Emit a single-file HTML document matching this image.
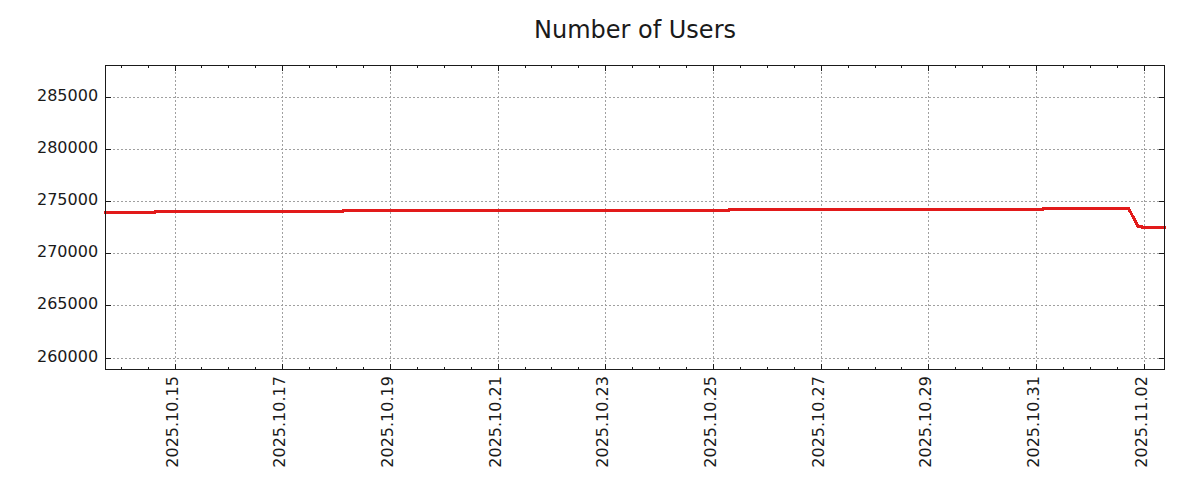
<!DOCTYPE html>
<html><head><meta charset="utf-8"><title>Number of Users</title>
<style>
html,body{margin:0;padding:0;background:#ffffff;overflow:hidden;font-family:"Liberation Sans",sans-serif;}
body{width:1200px;height:500px;}
</style></head><body>
<svg width="1200" height="500" viewBox="0 0 1200 500" style="display:block">
<rect x="0" y="0" width="1200" height="500" fill="#ffffff"/>
<g fill="#a0a0a0" shape-rendering="crispEdges">
<path d="M109 97h2v1h-2zM113 97h2v1h-2zM117 97h2v1h-2zM121 97h2v1h-2zM125 97h2v1h-2zM129 97h2v1h-2zM133 97h2v1h-2zM137 97h2v1h-2zM141 97h2v1h-2zM145 97h2v1h-2zM149 97h2v1h-2zM153 97h2v1h-2zM157 97h2v1h-2zM161 97h2v1h-2zM165 97h2v1h-2zM169 97h2v1h-2zM173 97h2v1h-2zM177 97h2v1h-2zM181 97h2v1h-2zM185 97h2v1h-2zM189 97h2v1h-2zM193 97h2v1h-2zM197 97h2v1h-2zM201 97h2v1h-2zM205 97h2v1h-2zM209 97h2v1h-2zM213 97h2v1h-2zM217 97h2v1h-2zM221 97h2v1h-2zM225 97h2v1h-2zM229 97h2v1h-2zM233 97h2v1h-2zM237 97h2v1h-2zM241 97h2v1h-2zM245 97h2v1h-2zM249 97h2v1h-2zM253 97h2v1h-2zM257 97h2v1h-2zM261 97h2v1h-2zM265 97h2v1h-2zM269 97h2v1h-2zM273 97h2v1h-2zM277 97h2v1h-2zM281 97h2v1h-2zM285 97h2v1h-2zM289 97h2v1h-2zM293 97h2v1h-2zM297 97h2v1h-2zM301 97h2v1h-2zM305 97h2v1h-2zM309 97h2v1h-2zM313 97h2v1h-2zM317 97h2v1h-2zM321 97h2v1h-2zM325 97h2v1h-2zM329 97h2v1h-2zM333 97h2v1h-2zM337 97h2v1h-2zM341 97h2v1h-2zM345 97h2v1h-2zM349 97h2v1h-2zM353 97h2v1h-2zM357 97h2v1h-2zM361 97h2v1h-2zM365 97h2v1h-2zM369 97h2v1h-2zM373 97h2v1h-2zM377 97h2v1h-2zM381 97h2v1h-2zM385 97h2v1h-2zM389 97h2v1h-2zM393 97h2v1h-2zM397 97h2v1h-2zM401 97h2v1h-2zM405 97h2v1h-2zM409 97h2v1h-2zM413 97h2v1h-2zM417 97h2v1h-2zM421 97h2v1h-2zM425 97h2v1h-2zM429 97h2v1h-2zM433 97h2v1h-2zM437 97h2v1h-2zM441 97h2v1h-2zM445 97h2v1h-2zM449 97h2v1h-2zM453 97h2v1h-2zM457 97h2v1h-2zM461 97h2v1h-2zM465 97h2v1h-2zM469 97h2v1h-2zM473 97h2v1h-2zM477 97h2v1h-2zM481 97h2v1h-2zM485 97h2v1h-2zM489 97h2v1h-2zM493 97h2v1h-2zM497 97h2v1h-2zM501 97h2v1h-2zM505 97h2v1h-2zM509 97h2v1h-2zM513 97h2v1h-2zM517 97h2v1h-2zM521 97h2v1h-2zM525 97h2v1h-2zM529 97h2v1h-2zM533 97h2v1h-2zM537 97h2v1h-2zM541 97h2v1h-2zM545 97h2v1h-2zM549 97h2v1h-2zM553 97h2v1h-2zM557 97h2v1h-2zM561 97h2v1h-2zM565 97h2v1h-2zM569 97h2v1h-2zM573 97h2v1h-2zM577 97h2v1h-2zM581 97h2v1h-2zM585 97h2v1h-2zM589 97h2v1h-2zM593 97h2v1h-2zM597 97h2v1h-2zM601 97h2v1h-2zM605 97h2v1h-2zM609 97h2v1h-2zM613 97h2v1h-2zM617 97h2v1h-2zM621 97h2v1h-2zM625 97h2v1h-2zM629 97h2v1h-2zM633 97h2v1h-2zM637 97h2v1h-2zM641 97h2v1h-2zM645 97h2v1h-2zM649 97h2v1h-2zM653 97h2v1h-2zM657 97h2v1h-2zM661 97h2v1h-2zM665 97h2v1h-2zM669 97h2v1h-2zM673 97h2v1h-2zM677 97h2v1h-2zM681 97h2v1h-2zM685 97h2v1h-2zM689 97h2v1h-2zM693 97h2v1h-2zM697 97h2v1h-2zM701 97h2v1h-2zM705 97h2v1h-2zM709 97h2v1h-2zM713 97h2v1h-2zM717 97h2v1h-2zM721 97h2v1h-2zM725 97h2v1h-2zM729 97h2v1h-2zM733 97h2v1h-2zM737 97h2v1h-2zM741 97h2v1h-2zM745 97h2v1h-2zM749 97h2v1h-2zM753 97h2v1h-2zM757 97h2v1h-2zM761 97h2v1h-2zM765 97h2v1h-2zM769 97h2v1h-2zM773 97h2v1h-2zM777 97h2v1h-2zM781 97h2v1h-2zM785 97h2v1h-2zM789 97h2v1h-2zM793 97h2v1h-2zM797 97h2v1h-2zM801 97h2v1h-2zM805 97h2v1h-2zM809 97h2v1h-2zM813 97h2v1h-2zM817 97h2v1h-2zM821 97h2v1h-2zM825 97h2v1h-2zM829 97h2v1h-2zM833 97h2v1h-2zM837 97h2v1h-2zM841 97h2v1h-2zM845 97h2v1h-2zM849 97h2v1h-2zM853 97h2v1h-2zM857 97h2v1h-2zM861 97h2v1h-2zM865 97h2v1h-2zM869 97h2v1h-2zM873 97h2v1h-2zM877 97h2v1h-2zM881 97h2v1h-2zM885 97h2v1h-2zM889 97h2v1h-2zM893 97h2v1h-2zM897 97h2v1h-2zM901 97h2v1h-2zM905 97h2v1h-2zM909 97h2v1h-2zM913 97h2v1h-2zM917 97h2v1h-2zM921 97h2v1h-2zM925 97h2v1h-2zM929 97h2v1h-2zM933 97h2v1h-2zM937 97h2v1h-2zM941 97h2v1h-2zM945 97h2v1h-2zM949 97h2v1h-2zM953 97h2v1h-2zM957 97h2v1h-2zM961 97h2v1h-2zM965 97h2v1h-2zM969 97h2v1h-2zM973 97h2v1h-2zM977 97h2v1h-2zM981 97h2v1h-2zM985 97h2v1h-2zM989 97h2v1h-2zM993 97h2v1h-2zM997 97h2v1h-2zM1001 97h2v1h-2zM1005 97h2v1h-2zM1009 97h2v1h-2zM1013 97h2v1h-2zM1017 97h2v1h-2zM1021 97h2v1h-2zM1025 97h2v1h-2zM1029 97h2v1h-2zM1033 97h2v1h-2zM1037 97h2v1h-2zM1041 97h2v1h-2zM1045 97h2v1h-2zM1049 97h2v1h-2zM1053 97h2v1h-2zM1057 97h2v1h-2zM1061 97h2v1h-2zM1065 97h2v1h-2zM1069 97h2v1h-2zM1073 97h2v1h-2zM1077 97h2v1h-2zM1081 97h2v1h-2zM1085 97h2v1h-2zM1089 97h2v1h-2zM1093 97h2v1h-2zM1097 97h2v1h-2zM1101 97h2v1h-2zM1105 97h2v1h-2zM1109 97h2v1h-2zM1113 97h2v1h-2zM1117 97h2v1h-2zM1121 97h2v1h-2zM1125 97h2v1h-2zM1129 97h2v1h-2zM1133 97h2v1h-2zM1137 97h2v1h-2zM1141 97h2v1h-2zM1145 97h2v1h-2zM1149 97h2v1h-2zM1153 97h2v1h-2zM1157 97h2v1h-2zM1161 97h2v1h-2z"/>
<path d="M109 149h2v1h-2zM113 149h2v1h-2zM117 149h2v1h-2zM121 149h2v1h-2zM125 149h2v1h-2zM129 149h2v1h-2zM133 149h2v1h-2zM137 149h2v1h-2zM141 149h2v1h-2zM145 149h2v1h-2zM149 149h2v1h-2zM153 149h2v1h-2zM157 149h2v1h-2zM161 149h2v1h-2zM165 149h2v1h-2zM169 149h2v1h-2zM173 149h2v1h-2zM177 149h2v1h-2zM181 149h2v1h-2zM185 149h2v1h-2zM189 149h2v1h-2zM193 149h2v1h-2zM197 149h2v1h-2zM201 149h2v1h-2zM205 149h2v1h-2zM209 149h2v1h-2zM213 149h2v1h-2zM217 149h2v1h-2zM221 149h2v1h-2zM225 149h2v1h-2zM229 149h2v1h-2zM233 149h2v1h-2zM237 149h2v1h-2zM241 149h2v1h-2zM245 149h2v1h-2zM249 149h2v1h-2zM253 149h2v1h-2zM257 149h2v1h-2zM261 149h2v1h-2zM265 149h2v1h-2zM269 149h2v1h-2zM273 149h2v1h-2zM277 149h2v1h-2zM281 149h2v1h-2zM285 149h2v1h-2zM289 149h2v1h-2zM293 149h2v1h-2zM297 149h2v1h-2zM301 149h2v1h-2zM305 149h2v1h-2zM309 149h2v1h-2zM313 149h2v1h-2zM317 149h2v1h-2zM321 149h2v1h-2zM325 149h2v1h-2zM329 149h2v1h-2zM333 149h2v1h-2zM337 149h2v1h-2zM341 149h2v1h-2zM345 149h2v1h-2zM349 149h2v1h-2zM353 149h2v1h-2zM357 149h2v1h-2zM361 149h2v1h-2zM365 149h2v1h-2zM369 149h2v1h-2zM373 149h2v1h-2zM377 149h2v1h-2zM381 149h2v1h-2zM385 149h2v1h-2zM389 149h2v1h-2zM393 149h2v1h-2zM397 149h2v1h-2zM401 149h2v1h-2zM405 149h2v1h-2zM409 149h2v1h-2zM413 149h2v1h-2zM417 149h2v1h-2zM421 149h2v1h-2zM425 149h2v1h-2zM429 149h2v1h-2zM433 149h2v1h-2zM437 149h2v1h-2zM441 149h2v1h-2zM445 149h2v1h-2zM449 149h2v1h-2zM453 149h2v1h-2zM457 149h2v1h-2zM461 149h2v1h-2zM465 149h2v1h-2zM469 149h2v1h-2zM473 149h2v1h-2zM477 149h2v1h-2zM481 149h2v1h-2zM485 149h2v1h-2zM489 149h2v1h-2zM493 149h2v1h-2zM497 149h2v1h-2zM501 149h2v1h-2zM505 149h2v1h-2zM509 149h2v1h-2zM513 149h2v1h-2zM517 149h2v1h-2zM521 149h2v1h-2zM525 149h2v1h-2zM529 149h2v1h-2zM533 149h2v1h-2zM537 149h2v1h-2zM541 149h2v1h-2zM545 149h2v1h-2zM549 149h2v1h-2zM553 149h2v1h-2zM557 149h2v1h-2zM561 149h2v1h-2zM565 149h2v1h-2zM569 149h2v1h-2zM573 149h2v1h-2zM577 149h2v1h-2zM581 149h2v1h-2zM585 149h2v1h-2zM589 149h2v1h-2zM593 149h2v1h-2zM597 149h2v1h-2zM601 149h2v1h-2zM605 149h2v1h-2zM609 149h2v1h-2zM613 149h2v1h-2zM617 149h2v1h-2zM621 149h2v1h-2zM625 149h2v1h-2zM629 149h2v1h-2zM633 149h2v1h-2zM637 149h2v1h-2zM641 149h2v1h-2zM645 149h2v1h-2zM649 149h2v1h-2zM653 149h2v1h-2zM657 149h2v1h-2zM661 149h2v1h-2zM665 149h2v1h-2zM669 149h2v1h-2zM673 149h2v1h-2zM677 149h2v1h-2zM681 149h2v1h-2zM685 149h2v1h-2zM689 149h2v1h-2zM693 149h2v1h-2zM697 149h2v1h-2zM701 149h2v1h-2zM705 149h2v1h-2zM709 149h2v1h-2zM713 149h2v1h-2zM717 149h2v1h-2zM721 149h2v1h-2zM725 149h2v1h-2zM729 149h2v1h-2zM733 149h2v1h-2zM737 149h2v1h-2zM741 149h2v1h-2zM745 149h2v1h-2zM749 149h2v1h-2zM753 149h2v1h-2zM757 149h2v1h-2zM761 149h2v1h-2zM765 149h2v1h-2zM769 149h2v1h-2zM773 149h2v1h-2zM777 149h2v1h-2zM781 149h2v1h-2zM785 149h2v1h-2zM789 149h2v1h-2zM793 149h2v1h-2zM797 149h2v1h-2zM801 149h2v1h-2zM805 149h2v1h-2zM809 149h2v1h-2zM813 149h2v1h-2zM817 149h2v1h-2zM821 149h2v1h-2zM825 149h2v1h-2zM829 149h2v1h-2zM833 149h2v1h-2zM837 149h2v1h-2zM841 149h2v1h-2zM845 149h2v1h-2zM849 149h2v1h-2zM853 149h2v1h-2zM857 149h2v1h-2zM861 149h2v1h-2zM865 149h2v1h-2zM869 149h2v1h-2zM873 149h2v1h-2zM877 149h2v1h-2zM881 149h2v1h-2zM885 149h2v1h-2zM889 149h2v1h-2zM893 149h2v1h-2zM897 149h2v1h-2zM901 149h2v1h-2zM905 149h2v1h-2zM909 149h2v1h-2zM913 149h2v1h-2zM917 149h2v1h-2zM921 149h2v1h-2zM925 149h2v1h-2zM929 149h2v1h-2zM933 149h2v1h-2zM937 149h2v1h-2zM941 149h2v1h-2zM945 149h2v1h-2zM949 149h2v1h-2zM953 149h2v1h-2zM957 149h2v1h-2zM961 149h2v1h-2zM965 149h2v1h-2zM969 149h2v1h-2zM973 149h2v1h-2zM977 149h2v1h-2zM981 149h2v1h-2zM985 149h2v1h-2zM989 149h2v1h-2zM993 149h2v1h-2zM997 149h2v1h-2zM1001 149h2v1h-2zM1005 149h2v1h-2zM1009 149h2v1h-2zM1013 149h2v1h-2zM1017 149h2v1h-2zM1021 149h2v1h-2zM1025 149h2v1h-2zM1029 149h2v1h-2zM1033 149h2v1h-2zM1037 149h2v1h-2zM1041 149h2v1h-2zM1045 149h2v1h-2zM1049 149h2v1h-2zM1053 149h2v1h-2zM1057 149h2v1h-2zM1061 149h2v1h-2zM1065 149h2v1h-2zM1069 149h2v1h-2zM1073 149h2v1h-2zM1077 149h2v1h-2zM1081 149h2v1h-2zM1085 149h2v1h-2zM1089 149h2v1h-2zM1093 149h2v1h-2zM1097 149h2v1h-2zM1101 149h2v1h-2zM1105 149h2v1h-2zM1109 149h2v1h-2zM1113 149h2v1h-2zM1117 149h2v1h-2zM1121 149h2v1h-2zM1125 149h2v1h-2zM1129 149h2v1h-2zM1133 149h2v1h-2zM1137 149h2v1h-2zM1141 149h2v1h-2zM1145 149h2v1h-2zM1149 149h2v1h-2zM1153 149h2v1h-2zM1157 149h2v1h-2zM1161 149h2v1h-2z"/>
<path d="M109 201h2v1h-2zM113 201h2v1h-2zM117 201h2v1h-2zM121 201h2v1h-2zM125 201h2v1h-2zM129 201h2v1h-2zM133 201h2v1h-2zM137 201h2v1h-2zM141 201h2v1h-2zM145 201h2v1h-2zM149 201h2v1h-2zM153 201h2v1h-2zM157 201h2v1h-2zM161 201h2v1h-2zM165 201h2v1h-2zM169 201h2v1h-2zM173 201h2v1h-2zM177 201h2v1h-2zM181 201h2v1h-2zM185 201h2v1h-2zM189 201h2v1h-2zM193 201h2v1h-2zM197 201h2v1h-2zM201 201h2v1h-2zM205 201h2v1h-2zM209 201h2v1h-2zM213 201h2v1h-2zM217 201h2v1h-2zM221 201h2v1h-2zM225 201h2v1h-2zM229 201h2v1h-2zM233 201h2v1h-2zM237 201h2v1h-2zM241 201h2v1h-2zM245 201h2v1h-2zM249 201h2v1h-2zM253 201h2v1h-2zM257 201h2v1h-2zM261 201h2v1h-2zM265 201h2v1h-2zM269 201h2v1h-2zM273 201h2v1h-2zM277 201h2v1h-2zM281 201h2v1h-2zM285 201h2v1h-2zM289 201h2v1h-2zM293 201h2v1h-2zM297 201h2v1h-2zM301 201h2v1h-2zM305 201h2v1h-2zM309 201h2v1h-2zM313 201h2v1h-2zM317 201h2v1h-2zM321 201h2v1h-2zM325 201h2v1h-2zM329 201h2v1h-2zM333 201h2v1h-2zM337 201h2v1h-2zM341 201h2v1h-2zM345 201h2v1h-2zM349 201h2v1h-2zM353 201h2v1h-2zM357 201h2v1h-2zM361 201h2v1h-2zM365 201h2v1h-2zM369 201h2v1h-2zM373 201h2v1h-2zM377 201h2v1h-2zM381 201h2v1h-2zM385 201h2v1h-2zM389 201h2v1h-2zM393 201h2v1h-2zM397 201h2v1h-2zM401 201h2v1h-2zM405 201h2v1h-2zM409 201h2v1h-2zM413 201h2v1h-2zM417 201h2v1h-2zM421 201h2v1h-2zM425 201h2v1h-2zM429 201h2v1h-2zM433 201h2v1h-2zM437 201h2v1h-2zM441 201h2v1h-2zM445 201h2v1h-2zM449 201h2v1h-2zM453 201h2v1h-2zM457 201h2v1h-2zM461 201h2v1h-2zM465 201h2v1h-2zM469 201h2v1h-2zM473 201h2v1h-2zM477 201h2v1h-2zM481 201h2v1h-2zM485 201h2v1h-2zM489 201h2v1h-2zM493 201h2v1h-2zM497 201h2v1h-2zM501 201h2v1h-2zM505 201h2v1h-2zM509 201h2v1h-2zM513 201h2v1h-2zM517 201h2v1h-2zM521 201h2v1h-2zM525 201h2v1h-2zM529 201h2v1h-2zM533 201h2v1h-2zM537 201h2v1h-2zM541 201h2v1h-2zM545 201h2v1h-2zM549 201h2v1h-2zM553 201h2v1h-2zM557 201h2v1h-2zM561 201h2v1h-2zM565 201h2v1h-2zM569 201h2v1h-2zM573 201h2v1h-2zM577 201h2v1h-2zM581 201h2v1h-2zM585 201h2v1h-2zM589 201h2v1h-2zM593 201h2v1h-2zM597 201h2v1h-2zM601 201h2v1h-2zM605 201h2v1h-2zM609 201h2v1h-2zM613 201h2v1h-2zM617 201h2v1h-2zM621 201h2v1h-2zM625 201h2v1h-2zM629 201h2v1h-2zM633 201h2v1h-2zM637 201h2v1h-2zM641 201h2v1h-2zM645 201h2v1h-2zM649 201h2v1h-2zM653 201h2v1h-2zM657 201h2v1h-2zM661 201h2v1h-2zM665 201h2v1h-2zM669 201h2v1h-2zM673 201h2v1h-2zM677 201h2v1h-2zM681 201h2v1h-2zM685 201h2v1h-2zM689 201h2v1h-2zM693 201h2v1h-2zM697 201h2v1h-2zM701 201h2v1h-2zM705 201h2v1h-2zM709 201h2v1h-2zM713 201h2v1h-2zM717 201h2v1h-2zM721 201h2v1h-2zM725 201h2v1h-2zM729 201h2v1h-2zM733 201h2v1h-2zM737 201h2v1h-2zM741 201h2v1h-2zM745 201h2v1h-2zM749 201h2v1h-2zM753 201h2v1h-2zM757 201h2v1h-2zM761 201h2v1h-2zM765 201h2v1h-2zM769 201h2v1h-2zM773 201h2v1h-2zM777 201h2v1h-2zM781 201h2v1h-2zM785 201h2v1h-2zM789 201h2v1h-2zM793 201h2v1h-2zM797 201h2v1h-2zM801 201h2v1h-2zM805 201h2v1h-2zM809 201h2v1h-2zM813 201h2v1h-2zM817 201h2v1h-2zM821 201h2v1h-2zM825 201h2v1h-2zM829 201h2v1h-2zM833 201h2v1h-2zM837 201h2v1h-2zM841 201h2v1h-2zM845 201h2v1h-2zM849 201h2v1h-2zM853 201h2v1h-2zM857 201h2v1h-2zM861 201h2v1h-2zM865 201h2v1h-2zM869 201h2v1h-2zM873 201h2v1h-2zM877 201h2v1h-2zM881 201h2v1h-2zM885 201h2v1h-2zM889 201h2v1h-2zM893 201h2v1h-2zM897 201h2v1h-2zM901 201h2v1h-2zM905 201h2v1h-2zM909 201h2v1h-2zM913 201h2v1h-2zM917 201h2v1h-2zM921 201h2v1h-2zM925 201h2v1h-2zM929 201h2v1h-2zM933 201h2v1h-2zM937 201h2v1h-2zM941 201h2v1h-2zM945 201h2v1h-2zM949 201h2v1h-2zM953 201h2v1h-2zM957 201h2v1h-2zM961 201h2v1h-2zM965 201h2v1h-2zM969 201h2v1h-2zM973 201h2v1h-2zM977 201h2v1h-2zM981 201h2v1h-2zM985 201h2v1h-2zM989 201h2v1h-2zM993 201h2v1h-2zM997 201h2v1h-2zM1001 201h2v1h-2zM1005 201h2v1h-2zM1009 201h2v1h-2zM1013 201h2v1h-2zM1017 201h2v1h-2zM1021 201h2v1h-2zM1025 201h2v1h-2zM1029 201h2v1h-2zM1033 201h2v1h-2zM1037 201h2v1h-2zM1041 201h2v1h-2zM1045 201h2v1h-2zM1049 201h2v1h-2zM1053 201h2v1h-2zM1057 201h2v1h-2zM1061 201h2v1h-2zM1065 201h2v1h-2zM1069 201h2v1h-2zM1073 201h2v1h-2zM1077 201h2v1h-2zM1081 201h2v1h-2zM1085 201h2v1h-2zM1089 201h2v1h-2zM1093 201h2v1h-2zM1097 201h2v1h-2zM1101 201h2v1h-2zM1105 201h2v1h-2zM1109 201h2v1h-2zM1113 201h2v1h-2zM1117 201h2v1h-2zM1121 201h2v1h-2zM1125 201h2v1h-2zM1129 201h2v1h-2zM1133 201h2v1h-2zM1137 201h2v1h-2zM1141 201h2v1h-2zM1145 201h2v1h-2zM1149 201h2v1h-2zM1153 201h2v1h-2zM1157 201h2v1h-2zM1161 201h2v1h-2z"/>
<path d="M109 253h2v1h-2zM113 253h2v1h-2zM117 253h2v1h-2zM121 253h2v1h-2zM125 253h2v1h-2zM129 253h2v1h-2zM133 253h2v1h-2zM137 253h2v1h-2zM141 253h2v1h-2zM145 253h2v1h-2zM149 253h2v1h-2zM153 253h2v1h-2zM157 253h2v1h-2zM161 253h2v1h-2zM165 253h2v1h-2zM169 253h2v1h-2zM173 253h2v1h-2zM177 253h2v1h-2zM181 253h2v1h-2zM185 253h2v1h-2zM189 253h2v1h-2zM193 253h2v1h-2zM197 253h2v1h-2zM201 253h2v1h-2zM205 253h2v1h-2zM209 253h2v1h-2zM213 253h2v1h-2zM217 253h2v1h-2zM221 253h2v1h-2zM225 253h2v1h-2zM229 253h2v1h-2zM233 253h2v1h-2zM237 253h2v1h-2zM241 253h2v1h-2zM245 253h2v1h-2zM249 253h2v1h-2zM253 253h2v1h-2zM257 253h2v1h-2zM261 253h2v1h-2zM265 253h2v1h-2zM269 253h2v1h-2zM273 253h2v1h-2zM277 253h2v1h-2zM281 253h2v1h-2zM285 253h2v1h-2zM289 253h2v1h-2zM293 253h2v1h-2zM297 253h2v1h-2zM301 253h2v1h-2zM305 253h2v1h-2zM309 253h2v1h-2zM313 253h2v1h-2zM317 253h2v1h-2zM321 253h2v1h-2zM325 253h2v1h-2zM329 253h2v1h-2zM333 253h2v1h-2zM337 253h2v1h-2zM341 253h2v1h-2zM345 253h2v1h-2zM349 253h2v1h-2zM353 253h2v1h-2zM357 253h2v1h-2zM361 253h2v1h-2zM365 253h2v1h-2zM369 253h2v1h-2zM373 253h2v1h-2zM377 253h2v1h-2zM381 253h2v1h-2zM385 253h2v1h-2zM389 253h2v1h-2zM393 253h2v1h-2zM397 253h2v1h-2zM401 253h2v1h-2zM405 253h2v1h-2zM409 253h2v1h-2zM413 253h2v1h-2zM417 253h2v1h-2zM421 253h2v1h-2zM425 253h2v1h-2zM429 253h2v1h-2zM433 253h2v1h-2zM437 253h2v1h-2zM441 253h2v1h-2zM445 253h2v1h-2zM449 253h2v1h-2zM453 253h2v1h-2zM457 253h2v1h-2zM461 253h2v1h-2zM465 253h2v1h-2zM469 253h2v1h-2zM473 253h2v1h-2zM477 253h2v1h-2zM481 253h2v1h-2zM485 253h2v1h-2zM489 253h2v1h-2zM493 253h2v1h-2zM497 253h2v1h-2zM501 253h2v1h-2zM505 253h2v1h-2zM509 253h2v1h-2zM513 253h2v1h-2zM517 253h2v1h-2zM521 253h2v1h-2zM525 253h2v1h-2zM529 253h2v1h-2zM533 253h2v1h-2zM537 253h2v1h-2zM541 253h2v1h-2zM545 253h2v1h-2zM549 253h2v1h-2zM553 253h2v1h-2zM557 253h2v1h-2zM561 253h2v1h-2zM565 253h2v1h-2zM569 253h2v1h-2zM573 253h2v1h-2zM577 253h2v1h-2zM581 253h2v1h-2zM585 253h2v1h-2zM589 253h2v1h-2zM593 253h2v1h-2zM597 253h2v1h-2zM601 253h2v1h-2zM605 253h2v1h-2zM609 253h2v1h-2zM613 253h2v1h-2zM617 253h2v1h-2zM621 253h2v1h-2zM625 253h2v1h-2zM629 253h2v1h-2zM633 253h2v1h-2zM637 253h2v1h-2zM641 253h2v1h-2zM645 253h2v1h-2zM649 253h2v1h-2zM653 253h2v1h-2zM657 253h2v1h-2zM661 253h2v1h-2zM665 253h2v1h-2zM669 253h2v1h-2zM673 253h2v1h-2zM677 253h2v1h-2zM681 253h2v1h-2zM685 253h2v1h-2zM689 253h2v1h-2zM693 253h2v1h-2zM697 253h2v1h-2zM701 253h2v1h-2zM705 253h2v1h-2zM709 253h2v1h-2zM713 253h2v1h-2zM717 253h2v1h-2zM721 253h2v1h-2zM725 253h2v1h-2zM729 253h2v1h-2zM733 253h2v1h-2zM737 253h2v1h-2zM741 253h2v1h-2zM745 253h2v1h-2zM749 253h2v1h-2zM753 253h2v1h-2zM757 253h2v1h-2zM761 253h2v1h-2zM765 253h2v1h-2zM769 253h2v1h-2zM773 253h2v1h-2zM777 253h2v1h-2zM781 253h2v1h-2zM785 253h2v1h-2zM789 253h2v1h-2zM793 253h2v1h-2zM797 253h2v1h-2zM801 253h2v1h-2zM805 253h2v1h-2zM809 253h2v1h-2zM813 253h2v1h-2zM817 253h2v1h-2zM821 253h2v1h-2zM825 253h2v1h-2zM829 253h2v1h-2zM833 253h2v1h-2zM837 253h2v1h-2zM841 253h2v1h-2zM845 253h2v1h-2zM849 253h2v1h-2zM853 253h2v1h-2zM857 253h2v1h-2zM861 253h2v1h-2zM865 253h2v1h-2zM869 253h2v1h-2zM873 253h2v1h-2zM877 253h2v1h-2zM881 253h2v1h-2zM885 253h2v1h-2zM889 253h2v1h-2zM893 253h2v1h-2zM897 253h2v1h-2zM901 253h2v1h-2zM905 253h2v1h-2zM909 253h2v1h-2zM913 253h2v1h-2zM917 253h2v1h-2zM921 253h2v1h-2zM925 253h2v1h-2zM929 253h2v1h-2zM933 253h2v1h-2zM937 253h2v1h-2zM941 253h2v1h-2zM945 253h2v1h-2zM949 253h2v1h-2zM953 253h2v1h-2zM957 253h2v1h-2zM961 253h2v1h-2zM965 253h2v1h-2zM969 253h2v1h-2zM973 253h2v1h-2zM977 253h2v1h-2zM981 253h2v1h-2zM985 253h2v1h-2zM989 253h2v1h-2zM993 253h2v1h-2zM997 253h2v1h-2zM1001 253h2v1h-2zM1005 253h2v1h-2zM1009 253h2v1h-2zM1013 253h2v1h-2zM1017 253h2v1h-2zM1021 253h2v1h-2zM1025 253h2v1h-2zM1029 253h2v1h-2zM1033 253h2v1h-2zM1037 253h2v1h-2zM1041 253h2v1h-2zM1045 253h2v1h-2zM1049 253h2v1h-2zM1053 253h2v1h-2zM1057 253h2v1h-2zM1061 253h2v1h-2zM1065 253h2v1h-2zM1069 253h2v1h-2zM1073 253h2v1h-2zM1077 253h2v1h-2zM1081 253h2v1h-2zM1085 253h2v1h-2zM1089 253h2v1h-2zM1093 253h2v1h-2zM1097 253h2v1h-2zM1101 253h2v1h-2zM1105 253h2v1h-2zM1109 253h2v1h-2zM1113 253h2v1h-2zM1117 253h2v1h-2zM1121 253h2v1h-2zM1125 253h2v1h-2zM1129 253h2v1h-2zM1133 253h2v1h-2zM1137 253h2v1h-2zM1141 253h2v1h-2zM1145 253h2v1h-2zM1149 253h2v1h-2zM1153 253h2v1h-2zM1157 253h2v1h-2zM1161 253h2v1h-2z"/>
<path d="M109 305h2v1h-2zM113 305h2v1h-2zM117 305h2v1h-2zM121 305h2v1h-2zM125 305h2v1h-2zM129 305h2v1h-2zM133 305h2v1h-2zM137 305h2v1h-2zM141 305h2v1h-2zM145 305h2v1h-2zM149 305h2v1h-2zM153 305h2v1h-2zM157 305h2v1h-2zM161 305h2v1h-2zM165 305h2v1h-2zM169 305h2v1h-2zM173 305h2v1h-2zM177 305h2v1h-2zM181 305h2v1h-2zM185 305h2v1h-2zM189 305h2v1h-2zM193 305h2v1h-2zM197 305h2v1h-2zM201 305h2v1h-2zM205 305h2v1h-2zM209 305h2v1h-2zM213 305h2v1h-2zM217 305h2v1h-2zM221 305h2v1h-2zM225 305h2v1h-2zM229 305h2v1h-2zM233 305h2v1h-2zM237 305h2v1h-2zM241 305h2v1h-2zM245 305h2v1h-2zM249 305h2v1h-2zM253 305h2v1h-2zM257 305h2v1h-2zM261 305h2v1h-2zM265 305h2v1h-2zM269 305h2v1h-2zM273 305h2v1h-2zM277 305h2v1h-2zM281 305h2v1h-2zM285 305h2v1h-2zM289 305h2v1h-2zM293 305h2v1h-2zM297 305h2v1h-2zM301 305h2v1h-2zM305 305h2v1h-2zM309 305h2v1h-2zM313 305h2v1h-2zM317 305h2v1h-2zM321 305h2v1h-2zM325 305h2v1h-2zM329 305h2v1h-2zM333 305h2v1h-2zM337 305h2v1h-2zM341 305h2v1h-2zM345 305h2v1h-2zM349 305h2v1h-2zM353 305h2v1h-2zM357 305h2v1h-2zM361 305h2v1h-2zM365 305h2v1h-2zM369 305h2v1h-2zM373 305h2v1h-2zM377 305h2v1h-2zM381 305h2v1h-2zM385 305h2v1h-2zM389 305h2v1h-2zM393 305h2v1h-2zM397 305h2v1h-2zM401 305h2v1h-2zM405 305h2v1h-2zM409 305h2v1h-2zM413 305h2v1h-2zM417 305h2v1h-2zM421 305h2v1h-2zM425 305h2v1h-2zM429 305h2v1h-2zM433 305h2v1h-2zM437 305h2v1h-2zM441 305h2v1h-2zM445 305h2v1h-2zM449 305h2v1h-2zM453 305h2v1h-2zM457 305h2v1h-2zM461 305h2v1h-2zM465 305h2v1h-2zM469 305h2v1h-2zM473 305h2v1h-2zM477 305h2v1h-2zM481 305h2v1h-2zM485 305h2v1h-2zM489 305h2v1h-2zM493 305h2v1h-2zM497 305h2v1h-2zM501 305h2v1h-2zM505 305h2v1h-2zM509 305h2v1h-2zM513 305h2v1h-2zM517 305h2v1h-2zM521 305h2v1h-2zM525 305h2v1h-2zM529 305h2v1h-2zM533 305h2v1h-2zM537 305h2v1h-2zM541 305h2v1h-2zM545 305h2v1h-2zM549 305h2v1h-2zM553 305h2v1h-2zM557 305h2v1h-2zM561 305h2v1h-2zM565 305h2v1h-2zM569 305h2v1h-2zM573 305h2v1h-2zM577 305h2v1h-2zM581 305h2v1h-2zM585 305h2v1h-2zM589 305h2v1h-2zM593 305h2v1h-2zM597 305h2v1h-2zM601 305h2v1h-2zM605 305h2v1h-2zM609 305h2v1h-2zM613 305h2v1h-2zM617 305h2v1h-2zM621 305h2v1h-2zM625 305h2v1h-2zM629 305h2v1h-2zM633 305h2v1h-2zM637 305h2v1h-2zM641 305h2v1h-2zM645 305h2v1h-2zM649 305h2v1h-2zM653 305h2v1h-2zM657 305h2v1h-2zM661 305h2v1h-2zM665 305h2v1h-2zM669 305h2v1h-2zM673 305h2v1h-2zM677 305h2v1h-2zM681 305h2v1h-2zM685 305h2v1h-2zM689 305h2v1h-2zM693 305h2v1h-2zM697 305h2v1h-2zM701 305h2v1h-2zM705 305h2v1h-2zM709 305h2v1h-2zM713 305h2v1h-2zM717 305h2v1h-2zM721 305h2v1h-2zM725 305h2v1h-2zM729 305h2v1h-2zM733 305h2v1h-2zM737 305h2v1h-2zM741 305h2v1h-2zM745 305h2v1h-2zM749 305h2v1h-2zM753 305h2v1h-2zM757 305h2v1h-2zM761 305h2v1h-2zM765 305h2v1h-2zM769 305h2v1h-2zM773 305h2v1h-2zM777 305h2v1h-2zM781 305h2v1h-2zM785 305h2v1h-2zM789 305h2v1h-2zM793 305h2v1h-2zM797 305h2v1h-2zM801 305h2v1h-2zM805 305h2v1h-2zM809 305h2v1h-2zM813 305h2v1h-2zM817 305h2v1h-2zM821 305h2v1h-2zM825 305h2v1h-2zM829 305h2v1h-2zM833 305h2v1h-2zM837 305h2v1h-2zM841 305h2v1h-2zM845 305h2v1h-2zM849 305h2v1h-2zM853 305h2v1h-2zM857 305h2v1h-2zM861 305h2v1h-2zM865 305h2v1h-2zM869 305h2v1h-2zM873 305h2v1h-2zM877 305h2v1h-2zM881 305h2v1h-2zM885 305h2v1h-2zM889 305h2v1h-2zM893 305h2v1h-2zM897 305h2v1h-2zM901 305h2v1h-2zM905 305h2v1h-2zM909 305h2v1h-2zM913 305h2v1h-2zM917 305h2v1h-2zM921 305h2v1h-2zM925 305h2v1h-2zM929 305h2v1h-2zM933 305h2v1h-2zM937 305h2v1h-2zM941 305h2v1h-2zM945 305h2v1h-2zM949 305h2v1h-2zM953 305h2v1h-2zM957 305h2v1h-2zM961 305h2v1h-2zM965 305h2v1h-2zM969 305h2v1h-2zM973 305h2v1h-2zM977 305h2v1h-2zM981 305h2v1h-2zM985 305h2v1h-2zM989 305h2v1h-2zM993 305h2v1h-2zM997 305h2v1h-2zM1001 305h2v1h-2zM1005 305h2v1h-2zM1009 305h2v1h-2zM1013 305h2v1h-2zM1017 305h2v1h-2zM1021 305h2v1h-2zM1025 305h2v1h-2zM1029 305h2v1h-2zM1033 305h2v1h-2zM1037 305h2v1h-2zM1041 305h2v1h-2zM1045 305h2v1h-2zM1049 305h2v1h-2zM1053 305h2v1h-2zM1057 305h2v1h-2zM1061 305h2v1h-2zM1065 305h2v1h-2zM1069 305h2v1h-2zM1073 305h2v1h-2zM1077 305h2v1h-2zM1081 305h2v1h-2zM1085 305h2v1h-2zM1089 305h2v1h-2zM1093 305h2v1h-2zM1097 305h2v1h-2zM1101 305h2v1h-2zM1105 305h2v1h-2zM1109 305h2v1h-2zM1113 305h2v1h-2zM1117 305h2v1h-2zM1121 305h2v1h-2zM1125 305h2v1h-2zM1129 305h2v1h-2zM1133 305h2v1h-2zM1137 305h2v1h-2zM1141 305h2v1h-2zM1145 305h2v1h-2zM1149 305h2v1h-2zM1153 305h2v1h-2zM1157 305h2v1h-2zM1161 305h2v1h-2z"/>
<path d="M109 358h2v1h-2zM113 358h2v1h-2zM117 358h2v1h-2zM121 358h2v1h-2zM125 358h2v1h-2zM129 358h2v1h-2zM133 358h2v1h-2zM137 358h2v1h-2zM141 358h2v1h-2zM145 358h2v1h-2zM149 358h2v1h-2zM153 358h2v1h-2zM157 358h2v1h-2zM161 358h2v1h-2zM165 358h2v1h-2zM169 358h2v1h-2zM173 358h2v1h-2zM177 358h2v1h-2zM181 358h2v1h-2zM185 358h2v1h-2zM189 358h2v1h-2zM193 358h2v1h-2zM197 358h2v1h-2zM201 358h2v1h-2zM205 358h2v1h-2zM209 358h2v1h-2zM213 358h2v1h-2zM217 358h2v1h-2zM221 358h2v1h-2zM225 358h2v1h-2zM229 358h2v1h-2zM233 358h2v1h-2zM237 358h2v1h-2zM241 358h2v1h-2zM245 358h2v1h-2zM249 358h2v1h-2zM253 358h2v1h-2zM257 358h2v1h-2zM261 358h2v1h-2zM265 358h2v1h-2zM269 358h2v1h-2zM273 358h2v1h-2zM277 358h2v1h-2zM281 358h2v1h-2zM285 358h2v1h-2zM289 358h2v1h-2zM293 358h2v1h-2zM297 358h2v1h-2zM301 358h2v1h-2zM305 358h2v1h-2zM309 358h2v1h-2zM313 358h2v1h-2zM317 358h2v1h-2zM321 358h2v1h-2zM325 358h2v1h-2zM329 358h2v1h-2zM333 358h2v1h-2zM337 358h2v1h-2zM341 358h2v1h-2zM345 358h2v1h-2zM349 358h2v1h-2zM353 358h2v1h-2zM357 358h2v1h-2zM361 358h2v1h-2zM365 358h2v1h-2zM369 358h2v1h-2zM373 358h2v1h-2zM377 358h2v1h-2zM381 358h2v1h-2zM385 358h2v1h-2zM389 358h2v1h-2zM393 358h2v1h-2zM397 358h2v1h-2zM401 358h2v1h-2zM405 358h2v1h-2zM409 358h2v1h-2zM413 358h2v1h-2zM417 358h2v1h-2zM421 358h2v1h-2zM425 358h2v1h-2zM429 358h2v1h-2zM433 358h2v1h-2zM437 358h2v1h-2zM441 358h2v1h-2zM445 358h2v1h-2zM449 358h2v1h-2zM453 358h2v1h-2zM457 358h2v1h-2zM461 358h2v1h-2zM465 358h2v1h-2zM469 358h2v1h-2zM473 358h2v1h-2zM477 358h2v1h-2zM481 358h2v1h-2zM485 358h2v1h-2zM489 358h2v1h-2zM493 358h2v1h-2zM497 358h2v1h-2zM501 358h2v1h-2zM505 358h2v1h-2zM509 358h2v1h-2zM513 358h2v1h-2zM517 358h2v1h-2zM521 358h2v1h-2zM525 358h2v1h-2zM529 358h2v1h-2zM533 358h2v1h-2zM537 358h2v1h-2zM541 358h2v1h-2zM545 358h2v1h-2zM549 358h2v1h-2zM553 358h2v1h-2zM557 358h2v1h-2zM561 358h2v1h-2zM565 358h2v1h-2zM569 358h2v1h-2zM573 358h2v1h-2zM577 358h2v1h-2zM581 358h2v1h-2zM585 358h2v1h-2zM589 358h2v1h-2zM593 358h2v1h-2zM597 358h2v1h-2zM601 358h2v1h-2zM605 358h2v1h-2zM609 358h2v1h-2zM613 358h2v1h-2zM617 358h2v1h-2zM621 358h2v1h-2zM625 358h2v1h-2zM629 358h2v1h-2zM633 358h2v1h-2zM637 358h2v1h-2zM641 358h2v1h-2zM645 358h2v1h-2zM649 358h2v1h-2zM653 358h2v1h-2zM657 358h2v1h-2zM661 358h2v1h-2zM665 358h2v1h-2zM669 358h2v1h-2zM673 358h2v1h-2zM677 358h2v1h-2zM681 358h2v1h-2zM685 358h2v1h-2zM689 358h2v1h-2zM693 358h2v1h-2zM697 358h2v1h-2zM701 358h2v1h-2zM705 358h2v1h-2zM709 358h2v1h-2zM713 358h2v1h-2zM717 358h2v1h-2zM721 358h2v1h-2zM725 358h2v1h-2zM729 358h2v1h-2zM733 358h2v1h-2zM737 358h2v1h-2zM741 358h2v1h-2zM745 358h2v1h-2zM749 358h2v1h-2zM753 358h2v1h-2zM757 358h2v1h-2zM761 358h2v1h-2zM765 358h2v1h-2zM769 358h2v1h-2zM773 358h2v1h-2zM777 358h2v1h-2zM781 358h2v1h-2zM785 358h2v1h-2zM789 358h2v1h-2zM793 358h2v1h-2zM797 358h2v1h-2zM801 358h2v1h-2zM805 358h2v1h-2zM809 358h2v1h-2zM813 358h2v1h-2zM817 358h2v1h-2zM821 358h2v1h-2zM825 358h2v1h-2zM829 358h2v1h-2zM833 358h2v1h-2zM837 358h2v1h-2zM841 358h2v1h-2zM845 358h2v1h-2zM849 358h2v1h-2zM853 358h2v1h-2zM857 358h2v1h-2zM861 358h2v1h-2zM865 358h2v1h-2zM869 358h2v1h-2zM873 358h2v1h-2zM877 358h2v1h-2zM881 358h2v1h-2zM885 358h2v1h-2zM889 358h2v1h-2zM893 358h2v1h-2zM897 358h2v1h-2zM901 358h2v1h-2zM905 358h2v1h-2zM909 358h2v1h-2zM913 358h2v1h-2zM917 358h2v1h-2zM921 358h2v1h-2zM925 358h2v1h-2zM929 358h2v1h-2zM933 358h2v1h-2zM937 358h2v1h-2zM941 358h2v1h-2zM945 358h2v1h-2zM949 358h2v1h-2zM953 358h2v1h-2zM957 358h2v1h-2zM961 358h2v1h-2zM965 358h2v1h-2zM969 358h2v1h-2zM973 358h2v1h-2zM977 358h2v1h-2zM981 358h2v1h-2zM985 358h2v1h-2zM989 358h2v1h-2zM993 358h2v1h-2zM997 358h2v1h-2zM1001 358h2v1h-2zM1005 358h2v1h-2zM1009 358h2v1h-2zM1013 358h2v1h-2zM1017 358h2v1h-2zM1021 358h2v1h-2zM1025 358h2v1h-2zM1029 358h2v1h-2zM1033 358h2v1h-2zM1037 358h2v1h-2zM1041 358h2v1h-2zM1045 358h2v1h-2zM1049 358h2v1h-2zM1053 358h2v1h-2zM1057 358h2v1h-2zM1061 358h2v1h-2zM1065 358h2v1h-2zM1069 358h2v1h-2zM1073 358h2v1h-2zM1077 358h2v1h-2zM1081 358h2v1h-2zM1085 358h2v1h-2zM1089 358h2v1h-2zM1093 358h2v1h-2zM1097 358h2v1h-2zM1101 358h2v1h-2zM1105 358h2v1h-2zM1109 358h2v1h-2zM1113 358h2v1h-2zM1117 358h2v1h-2zM1121 358h2v1h-2zM1125 358h2v1h-2zM1129 358h2v1h-2zM1133 358h2v1h-2zM1137 358h2v1h-2zM1141 358h2v1h-2zM1145 358h2v1h-2zM1149 358h2v1h-2zM1153 358h2v1h-2zM1157 358h2v1h-2zM1161 358h2v1h-2z"/>
<path d="M175 68h1v2h-1zM175 72h1v2h-1zM175 76h1v2h-1zM175 80h1v2h-1zM175 84h1v2h-1zM175 88h1v2h-1zM175 92h1v2h-1zM175 96h1v2h-1zM175 100h1v2h-1zM175 104h1v2h-1zM175 108h1v2h-1zM175 112h1v2h-1zM175 116h1v2h-1zM175 120h1v2h-1zM175 124h1v2h-1zM175 128h1v2h-1zM175 132h1v2h-1zM175 136h1v2h-1zM175 140h1v2h-1zM175 144h1v2h-1zM175 148h1v2h-1zM175 152h1v2h-1zM175 156h1v2h-1zM175 160h1v2h-1zM175 164h1v2h-1zM175 168h1v2h-1zM175 172h1v2h-1zM175 176h1v2h-1zM175 180h1v2h-1zM175 184h1v2h-1zM175 188h1v2h-1zM175 192h1v2h-1zM175 196h1v2h-1zM175 200h1v2h-1zM175 204h1v2h-1zM175 208h1v2h-1zM175 212h1v2h-1zM175 216h1v2h-1zM175 220h1v2h-1zM175 224h1v2h-1zM175 228h1v2h-1zM175 232h1v2h-1zM175 236h1v2h-1zM175 240h1v2h-1zM175 244h1v2h-1zM175 248h1v2h-1zM175 252h1v2h-1zM175 256h1v2h-1zM175 260h1v2h-1zM175 264h1v2h-1zM175 268h1v2h-1zM175 272h1v2h-1zM175 276h1v2h-1zM175 280h1v2h-1zM175 284h1v2h-1zM175 288h1v2h-1zM175 292h1v2h-1zM175 296h1v2h-1zM175 300h1v2h-1zM175 304h1v2h-1zM175 308h1v2h-1zM175 312h1v2h-1zM175 316h1v2h-1zM175 320h1v2h-1zM175 324h1v2h-1zM175 328h1v2h-1zM175 332h1v2h-1zM175 336h1v2h-1zM175 340h1v2h-1zM175 344h1v2h-1zM175 348h1v2h-1zM175 352h1v2h-1zM175 356h1v2h-1zM175 360h1v2h-1zM175 364h1v2h-1zM175 368h1v1h-1z"/>
<path d="M282 68h1v2h-1zM282 72h1v2h-1zM282 76h1v2h-1zM282 80h1v2h-1zM282 84h1v2h-1zM282 88h1v2h-1zM282 92h1v2h-1zM282 96h1v2h-1zM282 100h1v2h-1zM282 104h1v2h-1zM282 108h1v2h-1zM282 112h1v2h-1zM282 116h1v2h-1zM282 120h1v2h-1zM282 124h1v2h-1zM282 128h1v2h-1zM282 132h1v2h-1zM282 136h1v2h-1zM282 140h1v2h-1zM282 144h1v2h-1zM282 148h1v2h-1zM282 152h1v2h-1zM282 156h1v2h-1zM282 160h1v2h-1zM282 164h1v2h-1zM282 168h1v2h-1zM282 172h1v2h-1zM282 176h1v2h-1zM282 180h1v2h-1zM282 184h1v2h-1zM282 188h1v2h-1zM282 192h1v2h-1zM282 196h1v2h-1zM282 200h1v2h-1zM282 204h1v2h-1zM282 208h1v2h-1zM282 212h1v2h-1zM282 216h1v2h-1zM282 220h1v2h-1zM282 224h1v2h-1zM282 228h1v2h-1zM282 232h1v2h-1zM282 236h1v2h-1zM282 240h1v2h-1zM282 244h1v2h-1zM282 248h1v2h-1zM282 252h1v2h-1zM282 256h1v2h-1zM282 260h1v2h-1zM282 264h1v2h-1zM282 268h1v2h-1zM282 272h1v2h-1zM282 276h1v2h-1zM282 280h1v2h-1zM282 284h1v2h-1zM282 288h1v2h-1zM282 292h1v2h-1zM282 296h1v2h-1zM282 300h1v2h-1zM282 304h1v2h-1zM282 308h1v2h-1zM282 312h1v2h-1zM282 316h1v2h-1zM282 320h1v2h-1zM282 324h1v2h-1zM282 328h1v2h-1zM282 332h1v2h-1zM282 336h1v2h-1zM282 340h1v2h-1zM282 344h1v2h-1zM282 348h1v2h-1zM282 352h1v2h-1zM282 356h1v2h-1zM282 360h1v2h-1zM282 364h1v2h-1zM282 368h1v1h-1z"/>
<path d="M390 68h1v2h-1zM390 72h1v2h-1zM390 76h1v2h-1zM390 80h1v2h-1zM390 84h1v2h-1zM390 88h1v2h-1zM390 92h1v2h-1zM390 96h1v2h-1zM390 100h1v2h-1zM390 104h1v2h-1zM390 108h1v2h-1zM390 112h1v2h-1zM390 116h1v2h-1zM390 120h1v2h-1zM390 124h1v2h-1zM390 128h1v2h-1zM390 132h1v2h-1zM390 136h1v2h-1zM390 140h1v2h-1zM390 144h1v2h-1zM390 148h1v2h-1zM390 152h1v2h-1zM390 156h1v2h-1zM390 160h1v2h-1zM390 164h1v2h-1zM390 168h1v2h-1zM390 172h1v2h-1zM390 176h1v2h-1zM390 180h1v2h-1zM390 184h1v2h-1zM390 188h1v2h-1zM390 192h1v2h-1zM390 196h1v2h-1zM390 200h1v2h-1zM390 204h1v2h-1zM390 208h1v2h-1zM390 212h1v2h-1zM390 216h1v2h-1zM390 220h1v2h-1zM390 224h1v2h-1zM390 228h1v2h-1zM390 232h1v2h-1zM390 236h1v2h-1zM390 240h1v2h-1zM390 244h1v2h-1zM390 248h1v2h-1zM390 252h1v2h-1zM390 256h1v2h-1zM390 260h1v2h-1zM390 264h1v2h-1zM390 268h1v2h-1zM390 272h1v2h-1zM390 276h1v2h-1zM390 280h1v2h-1zM390 284h1v2h-1zM390 288h1v2h-1zM390 292h1v2h-1zM390 296h1v2h-1zM390 300h1v2h-1zM390 304h1v2h-1zM390 308h1v2h-1zM390 312h1v2h-1zM390 316h1v2h-1zM390 320h1v2h-1zM390 324h1v2h-1zM390 328h1v2h-1zM390 332h1v2h-1zM390 336h1v2h-1zM390 340h1v2h-1zM390 344h1v2h-1zM390 348h1v2h-1zM390 352h1v2h-1zM390 356h1v2h-1zM390 360h1v2h-1zM390 364h1v2h-1zM390 368h1v1h-1z"/>
<path d="M498 68h1v2h-1zM498 72h1v2h-1zM498 76h1v2h-1zM498 80h1v2h-1zM498 84h1v2h-1zM498 88h1v2h-1zM498 92h1v2h-1zM498 96h1v2h-1zM498 100h1v2h-1zM498 104h1v2h-1zM498 108h1v2h-1zM498 112h1v2h-1zM498 116h1v2h-1zM498 120h1v2h-1zM498 124h1v2h-1zM498 128h1v2h-1zM498 132h1v2h-1zM498 136h1v2h-1zM498 140h1v2h-1zM498 144h1v2h-1zM498 148h1v2h-1zM498 152h1v2h-1zM498 156h1v2h-1zM498 160h1v2h-1zM498 164h1v2h-1zM498 168h1v2h-1zM498 172h1v2h-1zM498 176h1v2h-1zM498 180h1v2h-1zM498 184h1v2h-1zM498 188h1v2h-1zM498 192h1v2h-1zM498 196h1v2h-1zM498 200h1v2h-1zM498 204h1v2h-1zM498 208h1v2h-1zM498 212h1v2h-1zM498 216h1v2h-1zM498 220h1v2h-1zM498 224h1v2h-1zM498 228h1v2h-1zM498 232h1v2h-1zM498 236h1v2h-1zM498 240h1v2h-1zM498 244h1v2h-1zM498 248h1v2h-1zM498 252h1v2h-1zM498 256h1v2h-1zM498 260h1v2h-1zM498 264h1v2h-1zM498 268h1v2h-1zM498 272h1v2h-1zM498 276h1v2h-1zM498 280h1v2h-1zM498 284h1v2h-1zM498 288h1v2h-1zM498 292h1v2h-1zM498 296h1v2h-1zM498 300h1v2h-1zM498 304h1v2h-1zM498 308h1v2h-1zM498 312h1v2h-1zM498 316h1v2h-1zM498 320h1v2h-1zM498 324h1v2h-1zM498 328h1v2h-1zM498 332h1v2h-1zM498 336h1v2h-1zM498 340h1v2h-1zM498 344h1v2h-1zM498 348h1v2h-1zM498 352h1v2h-1zM498 356h1v2h-1zM498 360h1v2h-1zM498 364h1v2h-1zM498 368h1v1h-1z"/>
<path d="M605 68h1v2h-1zM605 72h1v2h-1zM605 76h1v2h-1zM605 80h1v2h-1zM605 84h1v2h-1zM605 88h1v2h-1zM605 92h1v2h-1zM605 96h1v2h-1zM605 100h1v2h-1zM605 104h1v2h-1zM605 108h1v2h-1zM605 112h1v2h-1zM605 116h1v2h-1zM605 120h1v2h-1zM605 124h1v2h-1zM605 128h1v2h-1zM605 132h1v2h-1zM605 136h1v2h-1zM605 140h1v2h-1zM605 144h1v2h-1zM605 148h1v2h-1zM605 152h1v2h-1zM605 156h1v2h-1zM605 160h1v2h-1zM605 164h1v2h-1zM605 168h1v2h-1zM605 172h1v2h-1zM605 176h1v2h-1zM605 180h1v2h-1zM605 184h1v2h-1zM605 188h1v2h-1zM605 192h1v2h-1zM605 196h1v2h-1zM605 200h1v2h-1zM605 204h1v2h-1zM605 208h1v2h-1zM605 212h1v2h-1zM605 216h1v2h-1zM605 220h1v2h-1zM605 224h1v2h-1zM605 228h1v2h-1zM605 232h1v2h-1zM605 236h1v2h-1zM605 240h1v2h-1zM605 244h1v2h-1zM605 248h1v2h-1zM605 252h1v2h-1zM605 256h1v2h-1zM605 260h1v2h-1zM605 264h1v2h-1zM605 268h1v2h-1zM605 272h1v2h-1zM605 276h1v2h-1zM605 280h1v2h-1zM605 284h1v2h-1zM605 288h1v2h-1zM605 292h1v2h-1zM605 296h1v2h-1zM605 300h1v2h-1zM605 304h1v2h-1zM605 308h1v2h-1zM605 312h1v2h-1zM605 316h1v2h-1zM605 320h1v2h-1zM605 324h1v2h-1zM605 328h1v2h-1zM605 332h1v2h-1zM605 336h1v2h-1zM605 340h1v2h-1zM605 344h1v2h-1zM605 348h1v2h-1zM605 352h1v2h-1zM605 356h1v2h-1zM605 360h1v2h-1zM605 364h1v2h-1zM605 368h1v1h-1z"/>
<path d="M713 68h1v2h-1zM713 72h1v2h-1zM713 76h1v2h-1zM713 80h1v2h-1zM713 84h1v2h-1zM713 88h1v2h-1zM713 92h1v2h-1zM713 96h1v2h-1zM713 100h1v2h-1zM713 104h1v2h-1zM713 108h1v2h-1zM713 112h1v2h-1zM713 116h1v2h-1zM713 120h1v2h-1zM713 124h1v2h-1zM713 128h1v2h-1zM713 132h1v2h-1zM713 136h1v2h-1zM713 140h1v2h-1zM713 144h1v2h-1zM713 148h1v2h-1zM713 152h1v2h-1zM713 156h1v2h-1zM713 160h1v2h-1zM713 164h1v2h-1zM713 168h1v2h-1zM713 172h1v2h-1zM713 176h1v2h-1zM713 180h1v2h-1zM713 184h1v2h-1zM713 188h1v2h-1zM713 192h1v2h-1zM713 196h1v2h-1zM713 200h1v2h-1zM713 204h1v2h-1zM713 208h1v2h-1zM713 212h1v2h-1zM713 216h1v2h-1zM713 220h1v2h-1zM713 224h1v2h-1zM713 228h1v2h-1zM713 232h1v2h-1zM713 236h1v2h-1zM713 240h1v2h-1zM713 244h1v2h-1zM713 248h1v2h-1zM713 252h1v2h-1zM713 256h1v2h-1zM713 260h1v2h-1zM713 264h1v2h-1zM713 268h1v2h-1zM713 272h1v2h-1zM713 276h1v2h-1zM713 280h1v2h-1zM713 284h1v2h-1zM713 288h1v2h-1zM713 292h1v2h-1zM713 296h1v2h-1zM713 300h1v2h-1zM713 304h1v2h-1zM713 308h1v2h-1zM713 312h1v2h-1zM713 316h1v2h-1zM713 320h1v2h-1zM713 324h1v2h-1zM713 328h1v2h-1zM713 332h1v2h-1zM713 336h1v2h-1zM713 340h1v2h-1zM713 344h1v2h-1zM713 348h1v2h-1zM713 352h1v2h-1zM713 356h1v2h-1zM713 360h1v2h-1zM713 364h1v2h-1zM713 368h1v1h-1z"/>
<path d="M821 68h1v2h-1zM821 72h1v2h-1zM821 76h1v2h-1zM821 80h1v2h-1zM821 84h1v2h-1zM821 88h1v2h-1zM821 92h1v2h-1zM821 96h1v2h-1zM821 100h1v2h-1zM821 104h1v2h-1zM821 108h1v2h-1zM821 112h1v2h-1zM821 116h1v2h-1zM821 120h1v2h-1zM821 124h1v2h-1zM821 128h1v2h-1zM821 132h1v2h-1zM821 136h1v2h-1zM821 140h1v2h-1zM821 144h1v2h-1zM821 148h1v2h-1zM821 152h1v2h-1zM821 156h1v2h-1zM821 160h1v2h-1zM821 164h1v2h-1zM821 168h1v2h-1zM821 172h1v2h-1zM821 176h1v2h-1zM821 180h1v2h-1zM821 184h1v2h-1zM821 188h1v2h-1zM821 192h1v2h-1zM821 196h1v2h-1zM821 200h1v2h-1zM821 204h1v2h-1zM821 208h1v2h-1zM821 212h1v2h-1zM821 216h1v2h-1zM821 220h1v2h-1zM821 224h1v2h-1zM821 228h1v2h-1zM821 232h1v2h-1zM821 236h1v2h-1zM821 240h1v2h-1zM821 244h1v2h-1zM821 248h1v2h-1zM821 252h1v2h-1zM821 256h1v2h-1zM821 260h1v2h-1zM821 264h1v2h-1zM821 268h1v2h-1zM821 272h1v2h-1zM821 276h1v2h-1zM821 280h1v2h-1zM821 284h1v2h-1zM821 288h1v2h-1zM821 292h1v2h-1zM821 296h1v2h-1zM821 300h1v2h-1zM821 304h1v2h-1zM821 308h1v2h-1zM821 312h1v2h-1zM821 316h1v2h-1zM821 320h1v2h-1zM821 324h1v2h-1zM821 328h1v2h-1zM821 332h1v2h-1zM821 336h1v2h-1zM821 340h1v2h-1zM821 344h1v2h-1zM821 348h1v2h-1zM821 352h1v2h-1zM821 356h1v2h-1zM821 360h1v2h-1zM821 364h1v2h-1zM821 368h1v1h-1z"/>
<path d="M928 68h1v2h-1zM928 72h1v2h-1zM928 76h1v2h-1zM928 80h1v2h-1zM928 84h1v2h-1zM928 88h1v2h-1zM928 92h1v2h-1zM928 96h1v2h-1zM928 100h1v2h-1zM928 104h1v2h-1zM928 108h1v2h-1zM928 112h1v2h-1zM928 116h1v2h-1zM928 120h1v2h-1zM928 124h1v2h-1zM928 128h1v2h-1zM928 132h1v2h-1zM928 136h1v2h-1zM928 140h1v2h-1zM928 144h1v2h-1zM928 148h1v2h-1zM928 152h1v2h-1zM928 156h1v2h-1zM928 160h1v2h-1zM928 164h1v2h-1zM928 168h1v2h-1zM928 172h1v2h-1zM928 176h1v2h-1zM928 180h1v2h-1zM928 184h1v2h-1zM928 188h1v2h-1zM928 192h1v2h-1zM928 196h1v2h-1zM928 200h1v2h-1zM928 204h1v2h-1zM928 208h1v2h-1zM928 212h1v2h-1zM928 216h1v2h-1zM928 220h1v2h-1zM928 224h1v2h-1zM928 228h1v2h-1zM928 232h1v2h-1zM928 236h1v2h-1zM928 240h1v2h-1zM928 244h1v2h-1zM928 248h1v2h-1zM928 252h1v2h-1zM928 256h1v2h-1zM928 260h1v2h-1zM928 264h1v2h-1zM928 268h1v2h-1zM928 272h1v2h-1zM928 276h1v2h-1zM928 280h1v2h-1zM928 284h1v2h-1zM928 288h1v2h-1zM928 292h1v2h-1zM928 296h1v2h-1zM928 300h1v2h-1zM928 304h1v2h-1zM928 308h1v2h-1zM928 312h1v2h-1zM928 316h1v2h-1zM928 320h1v2h-1zM928 324h1v2h-1zM928 328h1v2h-1zM928 332h1v2h-1zM928 336h1v2h-1zM928 340h1v2h-1zM928 344h1v2h-1zM928 348h1v2h-1zM928 352h1v2h-1zM928 356h1v2h-1zM928 360h1v2h-1zM928 364h1v2h-1zM928 368h1v1h-1z"/>
<path d="M1036 68h1v2h-1zM1036 72h1v2h-1zM1036 76h1v2h-1zM1036 80h1v2h-1zM1036 84h1v2h-1zM1036 88h1v2h-1zM1036 92h1v2h-1zM1036 96h1v2h-1zM1036 100h1v2h-1zM1036 104h1v2h-1zM1036 108h1v2h-1zM1036 112h1v2h-1zM1036 116h1v2h-1zM1036 120h1v2h-1zM1036 124h1v2h-1zM1036 128h1v2h-1zM1036 132h1v2h-1zM1036 136h1v2h-1zM1036 140h1v2h-1zM1036 144h1v2h-1zM1036 148h1v2h-1zM1036 152h1v2h-1zM1036 156h1v2h-1zM1036 160h1v2h-1zM1036 164h1v2h-1zM1036 168h1v2h-1zM1036 172h1v2h-1zM1036 176h1v2h-1zM1036 180h1v2h-1zM1036 184h1v2h-1zM1036 188h1v2h-1zM1036 192h1v2h-1zM1036 196h1v2h-1zM1036 200h1v2h-1zM1036 204h1v2h-1zM1036 208h1v2h-1zM1036 212h1v2h-1zM1036 216h1v2h-1zM1036 220h1v2h-1zM1036 224h1v2h-1zM1036 228h1v2h-1zM1036 232h1v2h-1zM1036 236h1v2h-1zM1036 240h1v2h-1zM1036 244h1v2h-1zM1036 248h1v2h-1zM1036 252h1v2h-1zM1036 256h1v2h-1zM1036 260h1v2h-1zM1036 264h1v2h-1zM1036 268h1v2h-1zM1036 272h1v2h-1zM1036 276h1v2h-1zM1036 280h1v2h-1zM1036 284h1v2h-1zM1036 288h1v2h-1zM1036 292h1v2h-1zM1036 296h1v2h-1zM1036 300h1v2h-1zM1036 304h1v2h-1zM1036 308h1v2h-1zM1036 312h1v2h-1zM1036 316h1v2h-1zM1036 320h1v2h-1zM1036 324h1v2h-1zM1036 328h1v2h-1zM1036 332h1v2h-1zM1036 336h1v2h-1zM1036 340h1v2h-1zM1036 344h1v2h-1zM1036 348h1v2h-1zM1036 352h1v2h-1zM1036 356h1v2h-1zM1036 360h1v2h-1zM1036 364h1v2h-1zM1036 368h1v1h-1z"/>
<path d="M1144 68h1v2h-1zM1144 72h1v2h-1zM1144 76h1v2h-1zM1144 80h1v2h-1zM1144 84h1v2h-1zM1144 88h1v2h-1zM1144 92h1v2h-1zM1144 96h1v2h-1zM1144 100h1v2h-1zM1144 104h1v2h-1zM1144 108h1v2h-1zM1144 112h1v2h-1zM1144 116h1v2h-1zM1144 120h1v2h-1zM1144 124h1v2h-1zM1144 128h1v2h-1zM1144 132h1v2h-1zM1144 136h1v2h-1zM1144 140h1v2h-1zM1144 144h1v2h-1zM1144 148h1v2h-1zM1144 152h1v2h-1zM1144 156h1v2h-1zM1144 160h1v2h-1zM1144 164h1v2h-1zM1144 168h1v2h-1zM1144 172h1v2h-1zM1144 176h1v2h-1zM1144 180h1v2h-1zM1144 184h1v2h-1zM1144 188h1v2h-1zM1144 192h1v2h-1zM1144 196h1v2h-1zM1144 200h1v2h-1zM1144 204h1v2h-1zM1144 208h1v2h-1zM1144 212h1v2h-1zM1144 216h1v2h-1zM1144 220h1v2h-1zM1144 224h1v2h-1zM1144 228h1v2h-1zM1144 232h1v2h-1zM1144 236h1v2h-1zM1144 240h1v2h-1zM1144 244h1v2h-1zM1144 248h1v2h-1zM1144 252h1v2h-1zM1144 256h1v2h-1zM1144 260h1v2h-1zM1144 264h1v2h-1zM1144 268h1v2h-1zM1144 272h1v2h-1zM1144 276h1v2h-1zM1144 280h1v2h-1zM1144 284h1v2h-1zM1144 288h1v2h-1zM1144 292h1v2h-1zM1144 296h1v2h-1zM1144 300h1v2h-1zM1144 304h1v2h-1zM1144 308h1v2h-1zM1144 312h1v2h-1zM1144 316h1v2h-1zM1144 320h1v2h-1zM1144 324h1v2h-1zM1144 328h1v2h-1zM1144 332h1v2h-1zM1144 336h1v2h-1zM1144 340h1v2h-1zM1144 344h1v2h-1zM1144 348h1v2h-1zM1144 352h1v2h-1zM1144 356h1v2h-1zM1144 360h1v2h-1zM1144 364h1v2h-1zM1144 368h1v1h-1z"/>
</g>
<g fill="#e21a1a" stroke="none" shape-rendering="crispEdges">
<rect x="104" y="211" width="52" height="3"/>
<rect x="154" y="210" width="190" height="3"/>
<rect x="342" y="209" width="388" height="3"/>
<rect x="728" y="208" width="316" height="3"/>
<rect x="1042" y="207" width="88" height="3"/>
<rect x="1136.5" y="225" width="6.5" height="3"/>
<rect x="1141" y="226" width="25" height="3"/>
</g>
<path d="M1126.10 207L1129.50 207L1140.70 228L1137.30 228Z" fill="#e21a1a" shape-rendering="crispEdges"/>
<g fill="#1a1a1a" shape-rendering="crispEdges">
<rect x="105" y="65" width="1060" height="1"/>
<rect x="105" y="369" width="1060" height="1"/>
<rect x="105" y="65" width="1" height="305"/>
<rect x="1164" y="65" width="1" height="305"/>
<rect x="175" y="66" width="1" height="5"/><rect x="175" y="364" width="1" height="5"/>
<rect x="282" y="66" width="1" height="5"/><rect x="282" y="364" width="1" height="5"/>
<rect x="390" y="66" width="1" height="5"/><rect x="390" y="364" width="1" height="5"/>
<rect x="498" y="66" width="1" height="5"/><rect x="498" y="364" width="1" height="5"/>
<rect x="605" y="66" width="1" height="5"/><rect x="605" y="364" width="1" height="5"/>
<rect x="713" y="66" width="1" height="5"/><rect x="713" y="364" width="1" height="5"/>
<rect x="821" y="66" width="1" height="5"/><rect x="821" y="364" width="1" height="5"/>
<rect x="928" y="66" width="1" height="5"/><rect x="928" y="364" width="1" height="5"/>
<rect x="1036" y="66" width="1" height="5"/><rect x="1036" y="364" width="1" height="5"/>
<rect x="1144" y="66" width="1" height="5"/><rect x="1144" y="364" width="1" height="5"/>
<rect x="121" y="66" width="1" height="2"/><rect x="121" y="367" width="1" height="2"/>
<rect x="148" y="66" width="1" height="2"/><rect x="148" y="367" width="1" height="2"/>
<rect x="201" y="66" width="1" height="2"/><rect x="201" y="367" width="1" height="2"/>
<rect x="228" y="66" width="1" height="2"/><rect x="228" y="367" width="1" height="2"/>
<rect x="255" y="66" width="1" height="2"/><rect x="255" y="367" width="1" height="2"/>
<rect x="309" y="66" width="1" height="2"/><rect x="309" y="367" width="1" height="2"/>
<rect x="336" y="66" width="1" height="2"/><rect x="336" y="367" width="1" height="2"/>
<rect x="363" y="66" width="1" height="2"/><rect x="363" y="367" width="1" height="2"/>
<rect x="417" y="66" width="1" height="2"/><rect x="417" y="367" width="1" height="2"/>
<rect x="444" y="66" width="1" height="2"/><rect x="444" y="367" width="1" height="2"/>
<rect x="471" y="66" width="1" height="2"/><rect x="471" y="367" width="1" height="2"/>
<rect x="525" y="66" width="1" height="2"/><rect x="525" y="367" width="1" height="2"/>
<rect x="551" y="66" width="1" height="2"/><rect x="551" y="367" width="1" height="2"/>
<rect x="578" y="66" width="1" height="2"/><rect x="578" y="367" width="1" height="2"/>
<rect x="632" y="66" width="1" height="2"/><rect x="632" y="367" width="1" height="2"/>
<rect x="659" y="66" width="1" height="2"/><rect x="659" y="367" width="1" height="2"/>
<rect x="686" y="66" width="1" height="2"/><rect x="686" y="367" width="1" height="2"/>
<rect x="740" y="66" width="1" height="2"/><rect x="740" y="367" width="1" height="2"/>
<rect x="767" y="66" width="1" height="2"/><rect x="767" y="367" width="1" height="2"/>
<rect x="794" y="66" width="1" height="2"/><rect x="794" y="367" width="1" height="2"/>
<rect x="848" y="66" width="1" height="2"/><rect x="848" y="367" width="1" height="2"/>
<rect x="875" y="66" width="1" height="2"/><rect x="875" y="367" width="1" height="2"/>
<rect x="901" y="66" width="1" height="2"/><rect x="901" y="367" width="1" height="2"/>
<rect x="955" y="66" width="1" height="2"/><rect x="955" y="367" width="1" height="2"/>
<rect x="982" y="66" width="1" height="2"/><rect x="982" y="367" width="1" height="2"/>
<rect x="1009" y="66" width="1" height="2"/><rect x="1009" y="367" width="1" height="2"/>
<rect x="1063" y="66" width="1" height="2"/><rect x="1063" y="367" width="1" height="2"/>
<rect x="1090" y="66" width="1" height="2"/><rect x="1090" y="367" width="1" height="2"/>
<rect x="1117" y="66" width="1" height="2"/><rect x="1117" y="367" width="1" height="2"/>
<rect x="106" y="97" width="5" height="1"/><rect x="1159" y="97" width="5" height="1"/>
<rect x="106" y="149" width="5" height="1"/><rect x="1159" y="149" width="5" height="1"/>
<rect x="106" y="201" width="5" height="1"/><rect x="1159" y="201" width="5" height="1"/>
<rect x="106" y="253" width="5" height="1"/><rect x="1159" y="253" width="5" height="1"/>
<rect x="106" y="305" width="5" height="1"/><rect x="1159" y="305" width="5" height="1"/>
<rect x="106" y="358" width="5" height="1"/><rect x="1159" y="358" width="5" height="1"/>
</g>
<g fill="#1a1a1a" font-family="&quot;DejaVu Sans&quot;, &quot;Liberation Sans&quot;, sans-serif" font-size="16">
<text x="37" y="100.85">285000</text>
<text x="37" y="152.85">280000</text>
<text x="37" y="204.85">275000</text>
<text x="37" y="256.85">270000</text>
<text x="37" y="308.85">265000</text>
<text x="37" y="361.85">260000</text>
<text transform="translate(177.8 467.7) rotate(-90)">2025.10.15</text>
<text transform="translate(284.8 467.7) rotate(-90)">2025.10.17</text>
<text transform="translate(392.8 467.7) rotate(-90)">2025.10.19</text>
<text transform="translate(500.8 467.7) rotate(-90)">2025.10.21</text>
<text transform="translate(607.8 467.7) rotate(-90)">2025.10.23</text>
<text transform="translate(715.8 467.7) rotate(-90)">2025.10.25</text>
<text transform="translate(823.8 467.7) rotate(-90)">2025.10.27</text>
<text transform="translate(930.8 467.7) rotate(-90)">2025.10.29</text>
<text transform="translate(1038.8 467.7) rotate(-90)">2025.10.31</text>
<text transform="translate(1146.8 467.7) rotate(-90)">2025.11.02</text>
<text x="534" y="38" font-size="24">Number of Users</text>
</g>
</svg>
</body></html>
